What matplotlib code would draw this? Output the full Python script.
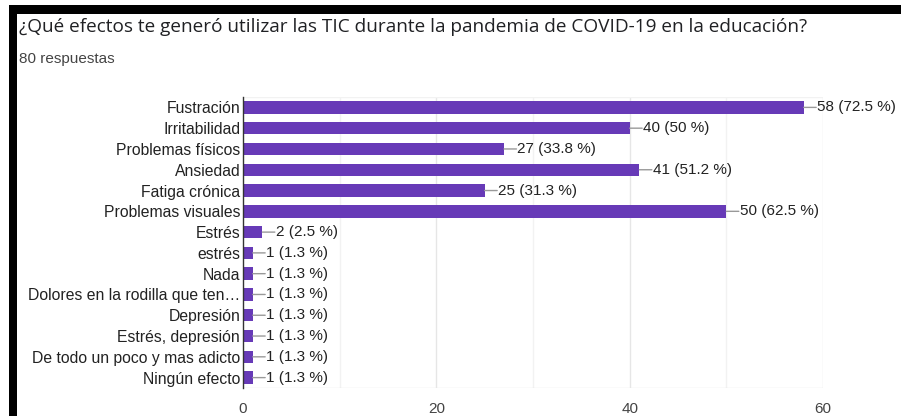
import matplotlib
matplotlib.use("Agg")
import matplotlib.pyplot as plt
from matplotlib.patches import Rectangle

categories = ["Fustración", "Irritabilidad", "Problemas físicos", "Ansiedad",
              "Fatiga crónica", "Problemas visuales", "Estrés", "estrés", "Nada",
              "Dolores en la rodilla que ten…", "Depresión", "Estrés, depresión",
              "De todo un poco y mas adicto", "Ningún efecto"]
counts = [58, 40, 27, 41, 25, 50, 2, 1, 1, 1, 1, 1, 1, 1]
percents = ["72.5", "50", "33.8", "51.2", "31.3", "62.5", "2.5",
            "1.3", "1.3", "1.3", "1.3", "1.3", "1.3", "1.3"]
xticks = [0, 20, 40, 60]

W, H = 901, 416
fig = plt.figure(figsize=(W / 100, H / 100), dpi=100)
fig.patch.set_facecolor("white")

# black frame pieces (screenshot border)
fig.add_artist(Rectangle((9 / W, 0), 8 / W, 1 - 7 / H, transform=fig.transFigure,
                         facecolor="black", edgecolor="none"))
fig.add_artist(Rectangle((9 / W, 1 - 14 / H), 1 - 9 / W, 9 / H, transform=fig.transFigure,
                         facecolor="black", edgecolor="none"))

fig.text(19 / W, 1 - 27 / H, "¿Qué efectos te generó utilizar las TIC durante la pandemia de COVID-19 en la educación?",
         fontsize=13.7, family="Open Sans", color="#202124", va="center", ha="left")
fig.text(19 / W, 1 - 59 / H, "80 respuestas", fontsize=11, family="Liberation Sans",
         color="#444444", va="center", ha="left")

ax = fig.add_axes([243 / W, 1 - 388 / H, (823 - 243) / W, (388 - 97) / H])
y = list(range(len(categories)))
ax.barh(y, counts, height=0.6, color="#673AB7", zorder=3)
ax.set_xlim(0, 60)
ax.set_ylim(len(categories) - 0.5, -0.5)

for gx in range(10, 61, 10):
    ax.axvline(gx, color="#e6e6e6" if gx % 20 == 0 else "#f2f2f2", lw=1, zorder=1)
ax.axhline(len(categories) - 0.5, color="#e6e6e6", lw=1, zorder=1)
ax.axhline(-0.5, color="#f2f2f2", lw=1, zorder=1)

for s in ["top", "right", "bottom"]:
    ax.spines[s].set_visible(False)
ax.spines["left"].set_color("#333333")
ax.spines["left"].set_linewidth(1)
ax.spines["left"].set_zorder(4)

ax.set_yticks(y)
ax.set_yticklabels(categories, fontsize=11.3, family="Liberation Sans", color="#222222")
ax.set_xticks(xticks)
ax.set_xticklabels([str(t) for t in xticks], fontsize=11, family="Liberation Sans", color="#444444")
ax.tick_params(axis="both", length=0)
ax.tick_params(axis="y", pad=2)
ax.tick_params(axis="x", pad=10)

for yi, c, p in zip(y, counts, percents):
    ax.annotate("", xy=(c, yi), xytext=(9, 0), textcoords="offset points",
                arrowprops=dict(arrowstyle="-", color="#999999", lw=1, shrinkA=0, shrinkB=0))
    ax.annotate(f"{c} ({p} %)", xy=(c, yi), xytext=(9.5, 0), textcoords="offset points",
                fontsize=11, family="Liberation Sans", color="#222222",
                va="center", ha="left", annotation_clip=False)

fig.savefig("out.png", dpi=100)
